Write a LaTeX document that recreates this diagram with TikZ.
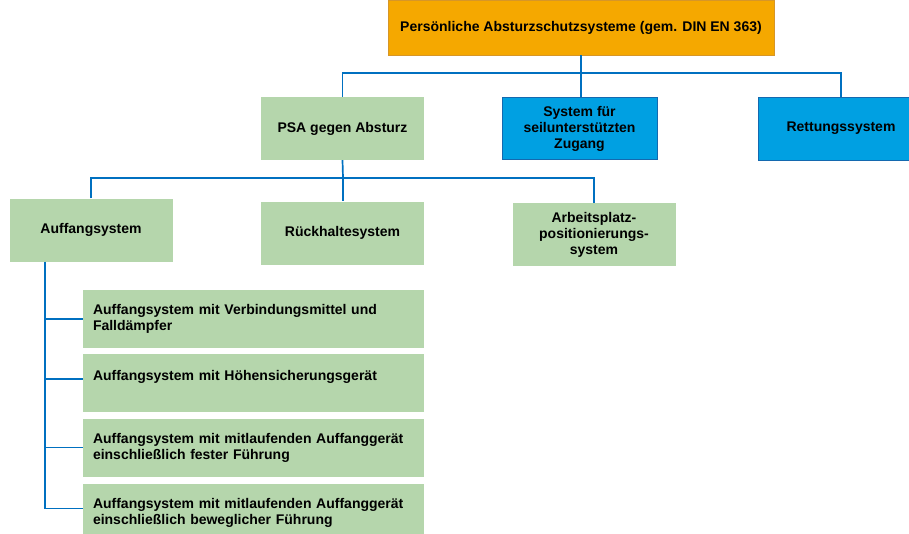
\documentclass[tikz,border=0pt]{standalone}
\usepackage{fontspec}
\setmainfont{Liberation Sans}
\usetikzlibrary{positioning}
\definecolor{orangefill}{RGB}{245,168,0}
\definecolor{orangeline}{RGB}{214,150,40}
\definecolor{greenfill}{RGB}{181,214,172}
\definecolor{bluefill}{RGB}{0,160,226}
\definecolor{blueline}{RGB}{20,105,175}
\definecolor{linkblue}{RGB}{0,112,192}

\begin{document}
\begin{tikzpicture}[x=1pt,y=-1pt,on grid,
   box/.style={inner sep=0pt,align=center,minimum width=163pt,minimum height=63pt,
      font=\fontsize{14}{16}\selectfont\bfseries},
   green/.style={box,fill=greenfill},
   blue/.style={box,fill=bluefill,draw=blueline,line width=0.8pt},
   sub/.style={fill=greenfill,inner xsep=10pt,inner ysep=0pt,text width=321pt,
      minimum height=58pt,font=\fontsize{14}{16}\selectfont\bfseries,
      execute at begin node={\parindent=0pt\rightskip=0pt plus 1fil\hyphenpenalty=10000\relax}},
   link/.style={draw=linkblue,line width=1.7pt}]
   \useasboundingbox (0,0) rectangle (909,533);

   \node[box,fill=orangefill,draw=orangeline,line width=0.8pt,minimum width=386pt,minimum height=55pt] (top) at (581,27.5) {Persönliche Absturzschutzsysteme (gem. DIN EN 363)};
   \node[green] (psa) [below left=101pt and 238.5pt of top] {PSA gegen Absturz};
   \node[blue,minimum width=155pt,minimum height=62pt] (seil) [right=237pt of psa] {System für\\seilunterstützten\\Zugang};
   \node[blue,minimum width=166pt] (rett) [right=261.5pt of seil] {Rettungssystem};
   \node[green] (rueck) [below=104.5pt of psa] {Rückhaltesystem};
   \node[green] (auff) [above left=3pt and 251.5pt of rueck] {Auffangsystem};
   \node[green] (arb) [below right=1.5pt and 251.5pt of rueck] {Arbeitsplatz-\\positionierungs-\\system};

   \node[sub] (sub1) [below right=89pt and 162.5pt of auff] {Auffangsystem mit Verbindungsmittel und Falldämpfer};
   \node[sub] (sub2) [below=64pt of sub1] {Auffangsystem mit Höhensicherungsgerät\\~};
   \node[sub] (sub3) [below=64.5pt of sub2] {Auffangsystem mit mitlaufenden Auffanggerät einschließlich fester Führung};
   \node[sub] (sub4) [below=65pt of sub3] {Auffangsystem mit mitlaufenden Auffanggerät einschließlich beweglicher Führung};

   \coordinate (bus1) at (581,73);
   \coordinate (bus2) at (343,178);
   \coordinate (trunk) at (45,0);

   \path[link] (top.south) -- (bus1);
   \path[link] (psa.north) |- (bus1) -| (rett.north);
   \path[link] (bus1) -- (bus1 |- seil.north);

   \path[link] (psa.south) -- (bus2);
   \path[link] (auff.north) |- (bus2) -| (arb.north);
   \path[link] (bus2) -- (bus2 |- rueck.north);

   \path[link] (trunk |- auff.south) |- ([yshift=4pt]sub4.west);
   \path[link] (trunk |- sub1.west) -- (sub1.west);
   \path[link] (trunk |- sub2.west) ++(0,-4) -- ([yshift=4pt]sub2.west);
   \path[link] (trunk |- sub3.west) -- (sub3.west);
\end{tikzpicture}
\end{document}
